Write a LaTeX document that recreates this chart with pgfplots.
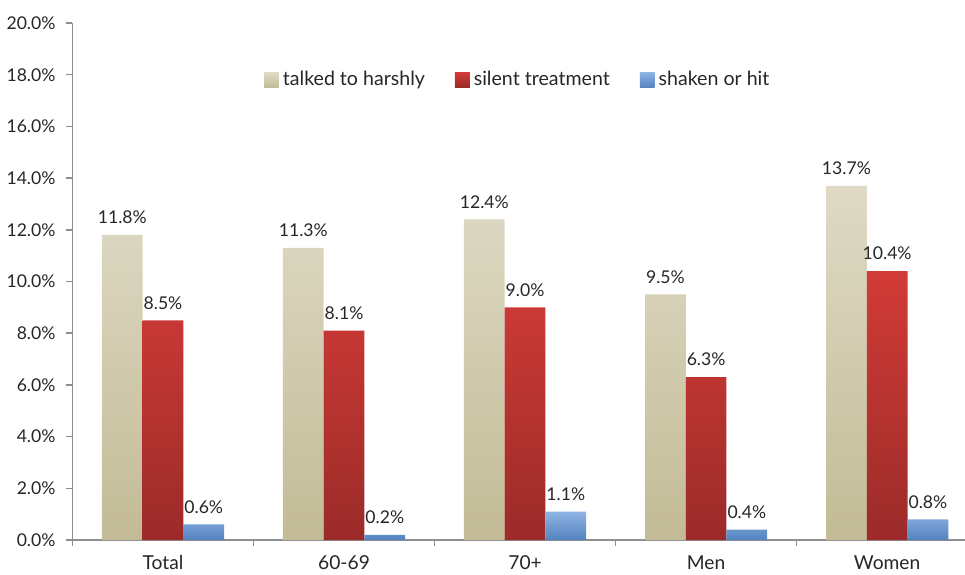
\documentclass[border=0pt]{standalone}
\usepackage{pgfplots}
\pgfplotsset{compat=1.18}
\usepackage{fontspec}
\setmainfont{Lato}
\definecolor{tanT}{HTML}{DEDAC6}
\definecolor{tanB}{HTML}{C3BB96}
\definecolor{redT}{HTML}{D23B37}
\definecolor{redB}{HTML}{9B2B29}
\definecolor{bluT}{HTML}{8EB4E3}
\definecolor{bluB}{HTML}{5483BE}
\definecolor{axgray}{HTML}{8E8E8E}
\definecolor{txt}{HTML}{262626}
\pgfplotsset{mylegend/.style={legend image code/.code={\path[##1] (0pt,-3.7pt) rectangle (7.4pt,3.7pt);}}}
\begin{document}
\begin{tikzpicture}
\path[use as bounding box] (0,0) rectangle (482.5pt,287pt);
\begin{axis}[
  at={(36.25pt,17pt)}, anchor=south west,
  scale only axis, width=446.25pt, height=258.5pt,
  ymin=0, ymax=20, xmin=-0.5, xmax=4.43,
  ybar=0pt, bar width=0.225,
  axis x line*=bottom, axis y line*=left,
  axis line style={axgray, line width=0.9pt},
  ytick={0,2,...,20},
  yticklabel={\pgfmathprintnumber[fixed,fixed zerofill,precision=1]{\tick}\%},
  xtick={0,1,2,3,4},
  xticklabels={Total,60-69,70+,Men,Women},
  minor xtick={-0.5,0.5,1.5,2.5,3.5},
  tick align=outside,
  major x tick style={draw=none},
  every tick/.style={axgray, line width=0.8pt},
  major tick length=3pt, minor tick length=3pt,
  tick label style={font=\fontsize{8.8}{10}\selectfont, text=txt},
  /pgf/number format/assume math mode=true,
  xticklabel style={yshift=-1.2pt, font=\fontsize{9.6}{11}\selectfont},
  yticklabel style={xshift=-2pt},
  nodes near coords={\pgfmathprintnumber[fixed,fixed zerofill,precision=1]{\pgfplotspointmeta}\%},
  every node near coord/.append style={font=\fontsize{8.8}{10}\selectfont, text=txt, yshift=2pt},
  legend style={at={(0.5,0.89)}, anchor=center, draw=none, fill=none,
    legend columns=3, font=\fontsize{9.8}{11}\selectfont, text=txt,
    /tikz/every even column/.append style={column sep=13pt},
    legend cell align=left},
  clip=false,
]
\addplot[draw=none, top color=tanT, bottom color=tanB, mylegend] coordinates {(0,11.8) (1,11.3) (2,12.4) (3,9.5) (4,13.7)};
\addplot[draw=none, top color=redT, bottom color=redB, mylegend] coordinates {(0,8.5) (1,8.1) (2,9.0) (3,6.3) (4,10.4)};
\addplot[draw=none, top color=bluT, bottom color=bluB, mylegend] coordinates {(0,0.6) (1,0.2) (2,1.1) (3,0.4) (4,0.8)};
\legend{talked to harshly, silent treatment, shaken or hit}
\end{axis}
\end{tikzpicture}
\end{document}
